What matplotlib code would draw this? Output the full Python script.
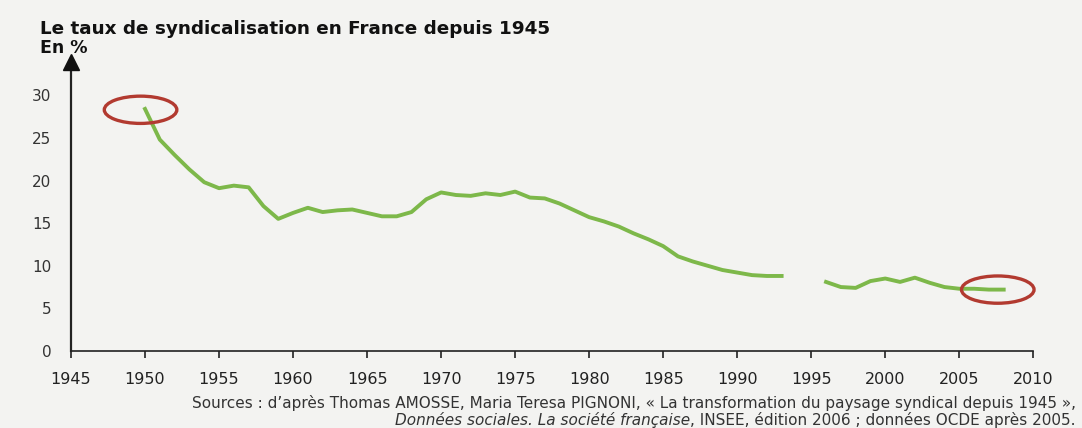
import numpy as np
import matplotlib
matplotlib.use('Agg')
import matplotlib.pyplot as plt
from matplotlib.patches import Ellipse
from matplotlib.offsetbox import TextArea, HPacker, AnnotationBbox

# taux de syndicalisation (%)
years = list(range(1950, 1994)) + [1994, 1995] + list(range(1996, 2009))
rate = [28.4, 24.8, 23.0, 21.3, 19.8, 19.1, 19.4, 19.2, 17.0, 15.5,
        16.2, 16.8, 16.3, 16.5, 16.6, 16.2, 15.8, 15.8, 16.3, 17.8,
        18.6, 18.3, 18.2, 18.5, 18.3, 18.7, 18.0, 17.9, 17.3, 16.5,
        15.7, 15.2, 14.6, 13.8, 13.1, 12.3, 11.1, 10.5, 10.0, 9.5,
        9.2, 8.9, 8.8, 8.8,
        np.nan, np.nan,
        8.1, 7.5, 7.4, 8.2, 8.5, 8.1, 8.6, 8.0, 7.5, 7.3,
        7.3, 7.2, 7.2]
xticks = list(range(1945, 2011, 5))
yticks = [0, 5, 10, 15, 20, 25, 30]
circled = [(1949.7, 28.3), (2007.6, 7.2)]

title = 'Le taux de syndicalisation en France depuis 1945'
source1 = 'Sources : d\u2019apr\u00e8s Thomas AMOSSE, Maria Teresa PIGNONI, \u00ab La transformation du paysage syndical depuis 1945 \u00bb,'
source2 = [('Donn\u00e9es sociales. La soci\u00e9t\u00e9 fran\u00e7aise', 'italic'),
           (', INSEE, \u00e9dition 2006 ; donn\u00e9es OCDE apr\u00e8s 2005.', 'normal')]

fig = plt.figure(figsize=(10.82, 4.28), dpi=100, facecolor='#f3f3f1')
ax = fig.add_axes([0.0656, 0.18, 0.8894, 0.675])
ax.set_facecolor('none')

ax.plot(years, rate, color='#7db84a', lw=2.8, solid_joinstyle='round', zorder=3)

for cx, cy in circled:
    ax.add_patch(Ellipse((cx, cy), 4.9, 3.2, fill=False, ec='#b23a30', lw=2.4,
                         zorder=4, clip_on=False))

ax.set_xlim(1945, 2010)
ax.set_ylim(0, 33.9)
ax.set_xticks(xticks)
ax.set_yticks(yticks)
for s in ['top', 'right']:
    ax.spines[s].set_visible(False)
ax.spines['left'].set_color('#222222')
ax.spines['bottom'].set_color('#222222')
ax.spines['left'].set_linewidth(1.6)
ax.spines['bottom'].set_linewidth(1.2)
ax.tick_params(axis='x', direction='out', length=5, width=1.2, pad=10,
               labelsize=11.5, colors='#222222')
ax.tick_params(axis='y', length=0, pad=14, labelsize=11, labelcolor='#333333')

# fleche de l'axe vertical
ax.plot([0], [1], marker='^', ms=12, color='#111111', transform=ax.transAxes,
        clip_on=False, zorder=5)

fig.text(0.037, 0.933, title, fontsize=13.2, fontweight='bold', color='#111111', va='center')
fig.text(0.037, 0.888, 'En %', fontsize=12.5, fontweight='bold', color='#111111', va='center')

fig.text(0.994, 1 - 403 / 428, source1, fontsize=11, ha='right', va='center', color='#333333')
parts = [TextArea(t, textprops=dict(fontsize=11, style=st, color='#333333')) for t, st in source2]
box = HPacker(children=parts, align='baseline', pad=0, sep=0)
ab = AnnotationBbox(box, (0.994, 1 - 419.5 / 428), xycoords='figure fraction', box_alignment=(1, 0.5),
                    frameon=False, pad=0)
fig.add_artist(ab)

fig.savefig('out.png', dpi=100, facecolor=fig.get_facecolor())
